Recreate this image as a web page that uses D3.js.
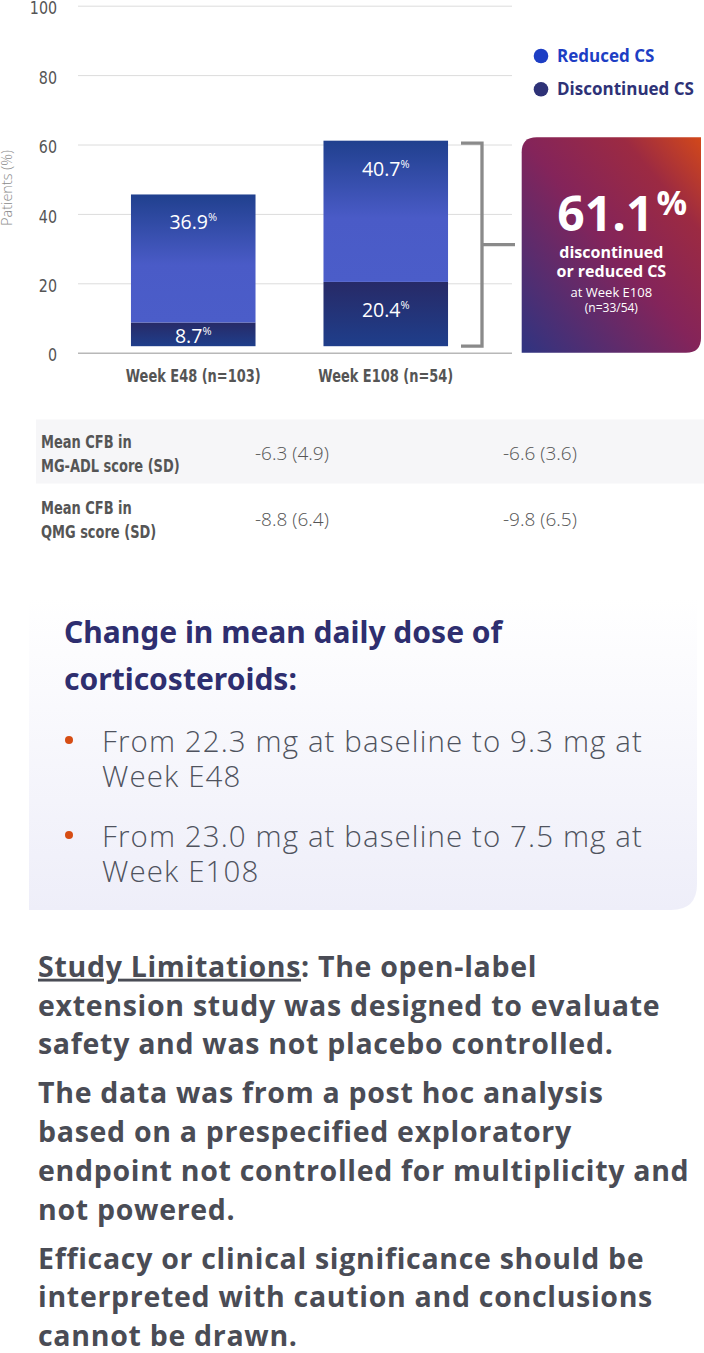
<!DOCTYPE html>
<html>
<head>
<meta charset="utf-8">
<title>Corticosteroid reduction</title>
<script src="https://d3js.org/d3.v7.min.js"></script>
<style>
  body { margin: 0; background: #fff; }
  svg { display: block; }
</style>
</head>
<body>
<div id="chart"></div>
<script>
// ---- data ----
const categories = ["Week E48 (n=103)", "Week E108 (n=54)"];
const discontinued = [8.7, 20.4];
const reduced = [36.9, 40.7];
const yTicks = [0, 20, 40, 60, 80, 100];
const seriesNames = ["Reduced CS", "Discontinued CS"];

const tableLabels = [["Mean CFB in", "MG-ADL score (SD)"], ["Mean CFB in", "QMG score (SD)"]];
const tableValues = [["-6.3 (4.9)", "-6.6 (3.6)"], ["-8.8 (6.4)", "-9.8 (6.5)"]];

const calloutLines = ["discontinued", "or reduced CS"];
const calloutSub = ["at Week E108", "(n=33/54)"];

const doseHeading = ["Change in mean daily dose of", "corticosteroids:"];
const doseBullets = [
  ["From 22.3 mg at baseline to 9.3 mg at", "Week E48"],
  ["From 23.0 mg at baseline to 7.5 mg at", "Week E108"]
];
const limitations = [
  ["Study Limitations: The open-label", "extension study was designed to evaluate", "safety and was not placebo controlled."],
  ["The data was from a post hoc analysis", "based on a prespecified exploratory", "endpoint not controlled for multiplicity and", "not powered."],
  ["Efficacy or clinical significance should be", "interpreted with caution and conclusions", "cannot be drawn."]
];

// ---- setup ----
const W = 704, H = 1353;
const narrow = "'DejaVu Sans Condensed', 'Open Sans', sans-serif";
const sans = "'Open Sans', 'Noto Sans', sans-serif";

const svg = d3.select("#chart").append("svg")
  .attr("width", W).attr("height", H);

// squeeze text horizontally to look like the condensed face of the original
function squeeze(sel, k) {
  sel.each(function () {
    const w = this.getComputedTextLength();
    d3.select(this).attr("textLength", w * k).attr("lengthAdjust", "spacingAndGlyphs");
  });
}

const defs = svg.append("defs");

const gReduced = defs.append("linearGradient").attr("id", "gReduced")
  .attr("x1", 0).attr("y1", 0).attr("x2", 0).attr("y2", 1);
gReduced.append("stop").attr("offset", "0%").attr("stop-color", "#20408e");
gReduced.append("stop").attr("offset", "55%").attr("stop-color", "#4a5bc7");
gReduced.append("stop").attr("offset", "100%").attr("stop-color", "#4b5dc9");

const gDisc = defs.append("linearGradient").attr("id", "gDisc")
  .attr("x1", 0).attr("y1", 0).attr("x2", 0).attr("y2", 1);
gDisc.append("stop").attr("offset", "0%").attr("stop-color", "#272a67");
gDisc.append("stop").attr("offset", "100%").attr("stop-color", "#1f3e8b");

const gBox = defs.append("linearGradient").attr("id", "gBox")
  .attr("x1", 0).attr("y1", 1).attr("x2", 1).attr("y2", 0);
gBox.append("stop").attr("offset", "0%").attr("stop-color", "#2f3481");
gBox.append("stop").attr("offset", "50%").attr("stop-color", "#84245a");
gBox.append("stop").attr("offset", "78%").attr("stop-color", "#9c2a42");
gBox.append("stop").attr("offset", "100%").attr("stop-color", "#d2481a");

const gPanel = defs.append("linearGradient").attr("id", "gPanel")
  .attr("x1", 0).attr("y1", 0).attr("x2", 0).attr("y2", 1);
gPanel.append("stop").attr("offset", "0%").attr("stop-color", "#ffffff");
gPanel.append("stop").attr("offset", "100%").attr("stop-color", "#eeeef9");

// ---- scales ----
const y = d3.scaleLinear().domain([0, 100]).range([352.7, 5.7]);
const x = d3.scaleBand().domain(categories).range([63, 516]).paddingInner(0.353).paddingOuter(0.353);
const barBottom = y(0) - 6.5;

// gridlines
svg.append("g")
  .attr("transform", "translate(78,0)")
  .call(d3.axisLeft(y).tickValues(yTicks).tickSize(-434).tickFormat(""))
  .call(g => g.select(".domain").remove())
  .call(g => g.selectAll("line")
    .attr("stroke", d => d === 0 ? "#b8b8b8" : "#dcdcdc")
    .attr("stroke-width", d => d === 0 ? 1.5 : 1));

// tick labels
svg.append("g")
  .attr("transform", "translate(57,0)")
  .call(d3.axisLeft(y).tickValues(yTicks).tickSize(0).tickPadding(0))
  .call(g => g.select(".domain").remove())
  .call(g => g.selectAll("text")
    .attr("font-family", narrow).attr("font-size", 18).attr("fill", "#555")
    .attr("dy", "0.45em"))
  .call(g => squeeze(g.selectAll("text"), 0.88));

svg.append("text")
  .attr("transform", "translate(12,188) rotate(-90)")
  .attr("text-anchor", "middle")
  .attr("font-family", sans).attr("font-weight", 300).attr("font-size", 14.5)
  .attr("fill", "#8a8a8a")
  .text("Patients (%)");

// bars
const stacks = categories.map((c, i) => ({
  cat: c,
  segs: [
    { key: "disc", v: discontinued[i], y0: 0, y1: discontinued[i] },
    { key: "red", v: reduced[i], y0: discontinued[i], y1: discontinued[i] + reduced[i] }
  ]
}));

const barG = svg.append("g").selectAll("g").data(stacks).join("g");

barG.selectAll("rect").data(d => d.segs.map(s => ({ ...s, cat: d.cat }))).join("rect")
  .attr("x", d => x(d.cat))
  .attr("width", x.bandwidth())
  .attr("y", d => y(d.y1))
  .attr("height", d => Math.min(y(d.y0), barBottom) - y(d.y1))
  .attr("fill", d => d.key === "red" ? "url(#gReduced)" : "url(#gDisc)");

const lbl = barG.selectAll("text").data(d => d.segs.map(s => ({ ...s, cat: d.cat }))).join("text")
  .attr("x", d => x(d.cat) + x.bandwidth() / 2)
  .attr("y", d => Math.min(y(d.y1) + 35, Math.min(y(d.y0), barBottom) - 3))
  .attr("text-anchor", "middle")
  .attr("font-family", sans).attr("font-size", 19.5).attr("fill", "#fff");
lbl.append("tspan").text(d => d.v.toFixed(1));
lbl.append("tspan").attr("font-size", 11).attr("dy", -8).text("%");

// x labels
svg.append("g")
  .attr("transform", `translate(0,${y(0)})`)
  .call(d3.axisBottom(x).tickSize(0).tickPadding(29))
  .call(g => g.select(".domain").remove())
  .call(g => g.selectAll("text")
    .attr("font-family", narrow).attr("font-weight", 700).attr("font-size", 18)
    .attr("fill", "#555").attr("dy", 0))
  .call(g => squeeze(g.selectAll("text"), 0.8));

// legend
const legendColors = ["#1d3ec4", "#2e3277"];
const leg = svg.append("g").selectAll("g").data(seriesNames).join("g")
  .attr("transform", (d, i) => `translate(541,${56 + i * 33.3})`);
leg.append("circle").attr("r", 7.3).attr("fill", (d, i) => legendColors[i]);
leg.append("text").attr("x", 16).attr("dy", 6)
  .attr("font-family", sans).attr("font-weight", 700).attr("font-size", 17)
  .attr("fill", (d, i) => legendColors[i])
  .text(d => d);

// bracket
const total2 = discontinued[1] + reduced[1];
const bTop = y(total2) + 2.5, bBot = barBottom, bMid = (bTop + bBot) / 2;
svg.append("path")
  .attr("d", `M461,${bTop}H482V${bBot}H461M482,${bMid}H515`)
  .attr("fill", "none").attr("stroke", "#8a8a8a").attr("stroke-width", 3.3);

// callout box
const bx0 = 521.7, bx1 = 701, by0 = 137.3, by1 = y(0), r = 15;
svg.append("path")
  .attr("d", `M${bx0},${by0 + r}Q${bx0},${by0} ${bx0 + r},${by0}H${bx1}V${by1 - r}Q${bx1},${by1} ${bx1 - r},${by1}H${bx0}Z`)
  .attr("fill", "url(#gBox)");

const bc = (bx0 + bx1) / 2;
const big = svg.append("text").attr("x", bc - 54).attr("y", 231)
  .attr("font-family", sans).attr("font-weight", 700)
  .attr("fill", "#fff").attr("font-size", 48);
big.append("tspan").text(total2.toFixed(1));
big.append("tspan").attr("font-size", 34).attr("dy", -16).attr("dx", 3).text("%");

svg.append("g").selectAll("text").data(calloutLines).join("text")
  .attr("x", bc).attr("y", (d, i) => 258.3 + i * 19)
  .attr("text-anchor", "middle").attr("font-family", sans).attr("font-weight", 700)
  .attr("font-size", 16).attr("fill", "#fff").text(d => d);

svg.append("g").selectAll("text").data(calloutSub).join("text")
  .attr("x", bc).attr("y", (d, i) => 296.7 + i * 15)
  .attr("text-anchor", "middle").attr("font-family", sans)
  .attr("font-size", (d, i) => i === 0 ? 13 : 12).attr("fill", "#fff").text(d => d);

// table
svg.append("rect").attr("x", 36).attr("y", 419.5).attr("width", W - 36).attr("height", 64)
  .attr("fill", "#f6f6f8");
const colX = [255, 503];
const rowY = [447.5, 513.5];
tableLabels.forEach((lines, i) => {
  lines.forEach((t, j) => {
    svg.append("text").attr("x", 41).attr("y", rowY[i] + j * 24)
      .attr("font-family", narrow).attr("font-weight", 700).attr("font-size", 18.5)
      .attr("fill", "#555").text(t)
      .call(s => squeeze(s, 0.78));
  });
  tableValues[i].forEach((t, j) => {
    svg.append("text").attr("x", colX[j]).attr("y", rowY[i] + 12.5)
      .attr("font-family", sans).attr("font-weight", 300).attr("font-size", 19)
      .attr("fill", "#555").text(t);
  });
});

// dose panel
svg.append("path")
  .attr("d", `M29,598H697V${910 - 26}Q697,910 ${697 - 26},910H29Z`)
  .attr("fill", "url(#gPanel)");

svg.append("g").selectAll("text").data(doseHeading).join("text")
  .attr("x", 64).attr("y", (d, i) => 643.3 + i * 46.7)
  .attr("font-family", "'Noto Sans', sans-serif").attr("font-weight", 700)
  .attr("font-size", 30).attr("fill", "#2e2e6f").text(d => d);

const bulletTop = [751.7, 846.7];
doseBullets.forEach((lines, i) => {
  svg.append("circle").attr("cx", 69).attr("cy", bulletTop[i] - 11.7).attr("r", 4).attr("fill", "#d64d14");
  lines.forEach((t, j) => {
    svg.append("text").attr("x", 102).attr("y", bulletTop[i] + j * 35.5)
      .attr("font-family", sans).attr("font-weight", 300).attr("font-size", 29.5)
      .attr("letter-spacing", 1.1)
      .attr("fill", "#4f535e").text(t);
  });
});

// limitations
const paraTop = [976.7, 1103.3, 1268.5];
limitations.forEach((lines, p) => {
  lines.forEach((t, j) => {
    const tx = svg.append("text").attr("x", 38).attr("y", paraTop[p] + j * 38.8)
      .attr("font-family", sans).attr("font-weight", 700).attr("font-size", 28.5)
      .attr("letter-spacing", 0.7)
      .attr("fill", "#4a4c55");
    if (p === 0 && j === 0) {
      const k = t.indexOf(":");
      tx.append("tspan").attr("text-decoration", "underline").text(t.slice(0, k));
      tx.append("tspan").text(t.slice(k));
    } else {
      tx.text(t);
    }
  });
});
</script>
</body>
</html>
